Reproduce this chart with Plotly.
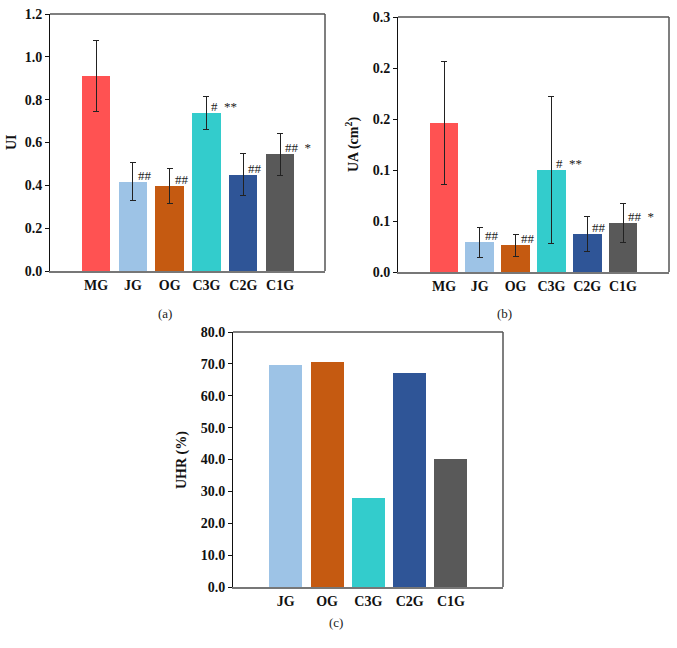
import plotly.graph_objects as go

groups_ab = ["MG", "JG", "OG", "C3G", "C2G", "C1G"]
colors_ab = ["#FF5252", "#9DC3E6", "#C55A11", "#33CCCC", "#2F5597", "#595959"]

ui_vals = [0.910, 0.416, 0.398, 0.739, 0.450, 0.544]
ui_err = [0.167, 0.089, 0.082, 0.076, 0.097, 0.097]
ui_sig = ["", "##", "##", "#\u00a0\u00a0**", "##", "##\u00a0\u00a0*"]
ui_ticks = [0.0, 0.2, 0.4, 0.6, 0.8, 1.0, 1.2]
ui_ticktext = ["0.0", "0.2", "0.4", "0.6", "0.8", "1.0", "1.2"]

ua_vals = [0.146, 0.029, 0.026, 0.100, 0.037, 0.048]
ua_err = [0.060, 0.015, 0.011, 0.072, 0.017, 0.019]
ua_sig = ["", "##", "##", "#\u00a0\u00a0**", "##", "##\u00a0\u00a0*"]
ua_ticks = [0.0, 0.05, 0.10, 0.15, 0.20, 0.25]
ua_ticktext = ["0.0", "0.1", "0.1", "0.2", "0.2", "0.3"]

groups_c = ["JG", "OG", "C3G", "C2G", "C1G"]
colors_c = ["#9DC3E6", "#C55A11", "#33CCCC", "#2F5597", "#595959"]
uhr_vals = [69.5, 70.7, 28.0, 67.1, 40.1]
uhr_ticks = [0, 10, 20, 30, 40, 50, 60, 70, 80]
uhr_ticktext = ["0.0", "10.0", "20.0", "30.0", "40.0", "50.0", "60.0", "70.0", "80.0"]

SERIF = "Liberation Serif"
tickfont = dict(family=SERIF, size=14, color="#111", weight="bold")

fig = go.Figure()

fig.add_trace(go.Bar(
    x=groups_ab, y=ui_vals, marker=dict(color=colors_ab, line=dict(width=0)),
    width=0.77, xaxis="x", yaxis="y",
    error_y=dict(type="data", array=ui_err, visible=True, color="#222", thickness=1, width=3),
    showlegend=False))
fig.add_trace(go.Bar(
    x=groups_ab, y=ua_vals, marker=dict(color=colors_ab, line=dict(width=0)),
    width=0.8, xaxis="x2", yaxis="y2",
    error_y=dict(type="data", array=ua_err, visible=True, color="#222", thickness=1, width=3),
    showlegend=False))
fig.add_trace(go.Bar(
    x=groups_c, y=uhr_vals, marker=dict(color=colors_c, line=dict(width=0)),
    width=0.8, xaxis="x3", yaxis="y3", showlegend=False))

W, H = 677, 648


def xax(dom, rng, anchor):
    return dict(domain=dom, range=rng, anchor=anchor, type="category",
                showline=True, linecolor="#777", linewidth=2, ticks="",
                showgrid=False, zeroline=False, tickfont=tickfont,
                ticklabelstandoff=0, fixedrange=True, automargin=False)


def yax(dom, rng, anchor, tv, tt):
    return dict(domain=dom, range=rng, anchor=anchor, tickvals=tv, ticktext=tt,
                showline=True, linecolor="#111", linewidth=1, ticks="outside",
                ticklen=4, tickcolor="#111", showgrid=False, zeroline=False,
                tickfont=tickfont, fixedrange=True, automargin=False)


fig.update_layout(
    width=W, height=H,
    margin=dict(l=0, r=0, t=0, b=0, autoexpand=False),
    paper_bgcolor="white", plot_bgcolor="white",
    bargap=0,
    xaxis=xax([50 / W, 325 / W], [-1.25, 6.22], "y"),
    yaxis=yax([1 - 271 / H, 1 - 14 / H], [0, 1.2], "x", ui_ticks, ui_ticktext),
    xaxis2=xax([398 / W, 669 / W], [-1.285, 6.285], "y2"),
    yaxis2=yax([1 - 272 / H, 1 - 17 / H], [0, 0.25], "x2", ua_ticks, ua_ticktext),
    xaxis3=xax([233 / W, 503 / W], [-1.276, 5.26], "y3"),
    yaxis3=yax([1 - 587 / H, 1 - 332 / H], [0, 80], "x3", uhr_ticks, uhr_ticktext),
)

# top/right frame lines
for xr, yr in [("x", "y"), ("x2", "y2"), ("x3", "y3")]:
    fig.add_shape(type="line", xref=xr + " domain", yref=yr + " domain",
                  x0=0, x1=1, y0=1, y1=1, line=dict(color="#555", width=1.5))
    fig.add_shape(type="line", xref=xr + " domain", yref=yr + " domain",
                  x0=1, x1=1, y0=0, y1=1, line=dict(color="#555", width=1.5))

annfont = dict(family=SERIF, size=13, color="#222")
for g, v, s in zip(groups_ab, ui_vals, ui_sig):
    if s:
        fig.add_annotation(x=g, y=v, xref="x", yref="y", text=s, showarrow=False,
                           xanchor="left", yanchor="bottom", xshift=3, yshift=-3, font=annfont)
for g, v, s in zip(groups_ab, ua_vals, ua_sig):
    if s:
        fig.add_annotation(x=g, y=v, xref="x2", yref="y2", text=s, showarrow=False,
                           xanchor="left", yanchor="bottom", xshift=3, yshift=-3, font=annfont)

titlefont = dict(family=SERIF, size=14, color="#111", weight="bold")
for txt, px, py in [("UI", 12, 142), ("UA (cm<sup>2</sup>)", 352, 144), ("UHR (%)", 182, 460)]:
    fig.add_annotation(x=px / W, y=1 - py / H, xref="paper", yref="paper", text=txt,
                       textangle=-90, showarrow=False, font=titlefont,
                       xanchor="center", yanchor="middle")

labfont = dict(family=SERIF, size=13, color="#222")
for txt, px, py in [("(a)", 165, 313), ("(b)", 504, 313), ("(c)", 336, 622)]:
    fig.add_annotation(x=px / W, y=1 - py / H, xref="paper", yref="paper", text=txt,
                       showarrow=False, font=labfont, xanchor="center", yanchor="middle")

fig.write_html("out.html", config={"displayModeBar": False},
               post_script="document.body.style.margin='0';document.body.style.overflow='hidden';")
